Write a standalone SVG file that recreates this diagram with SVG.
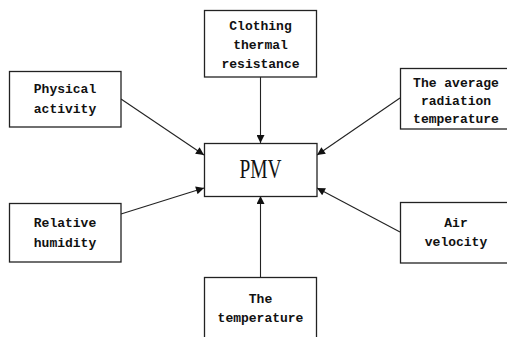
<svg xmlns="http://www.w3.org/2000/svg" width="507" height="337" viewBox="0 0 507 337">
<style>
.box{fill:#fff;stroke:#222;stroke-width:1.3}
.t{font-family:"Liberation Mono","DejaVu Sans Mono",monospace;font-weight:bold;font-size:13px;fill:#111;text-anchor:middle}
.c{stroke:#222;stroke-width:1.1;fill:none;marker-end:url(#ah)}
</style>
<defs>
<marker id="ah" viewBox="0 0 10 10" refX="10" refY="5" markerWidth="9" markerHeight="8" markerUnits="userSpaceOnUse" orient="auto">
<path d="M0,0 L10,5 L0,10 z" fill="#111"/>
</marker>
</defs>
<rect width="507" height="337" fill="#fff"/>
<g id="connectors">
<line class="c" x1="260.5" y1="77" x2="260.5" y2="143"/>
<line class="c" x1="121" y1="99" x2="204" y2="155"/>
<line class="c" x1="400" y1="98" x2="317" y2="155"/>
<line class="c" x1="121" y1="214" x2="204" y2="188"/>
<line class="c" x1="400" y1="232" x2="317" y2="188"/>
<line class="c" x1="260.5" y1="277" x2="260.5" y2="196"/>
</g>
<g id="pmv">
<rect class="box" x="204.5" y="143.5" width="112.5" height="53"/>
<text x="260.5" y="178" font-family="'Liberation Serif',serif" font-size="27" text-anchor="middle" fill="#111" textLength="42" lengthAdjust="spacingAndGlyphs">PMV</text>
</g>
<g id="clothing">
<rect class="box" x="204.5" y="10.5" width="112" height="66.5"/>
<text class="t" x="260.5" y="29.5">Clothing</text>
<text class="t" x="260.5" y="48.5">thermal</text>
<text class="t" x="260.5" y="67.5">resistance</text>
</g>
<g id="physical">
<rect class="box" x="9.5" y="71.5" width="111.5" height="55.5"/>
<text class="t" x="65" y="92.5">Physical</text>
<text class="t" x="65" y="112.5">activity</text>
</g>
<g id="radiation">
<rect class="box" x="400.5" y="68.5" width="112" height="60.5"/>
<text class="t" x="456" y="86.5">The average</text>
<text class="t" x="456" y="104.5">radiation</text>
<text class="t" x="456" y="122.5">temperature</text>
</g>
<g id="humidity">
<rect class="box" x="9.5" y="203.5" width="111.5" height="58.5"/>
<text class="t" x="65" y="226.5">Relative</text>
<text class="t" x="65" y="246.5">humidity</text>
</g>
<g id="air">
<rect class="box" x="400.5" y="202.5" width="112" height="60.5"/>
<text class="t" x="456" y="226.5">Air</text>
<text class="t" x="456" y="245.5">velocity</text>
</g>
<g id="temperature">
<rect class="box" x="204.5" y="277.5" width="112" height="70"/>
<text class="t" x="260.5" y="302.5">The</text>
<text class="t" x="260.5" y="321.5">temperature</text>
</g>
</svg>
